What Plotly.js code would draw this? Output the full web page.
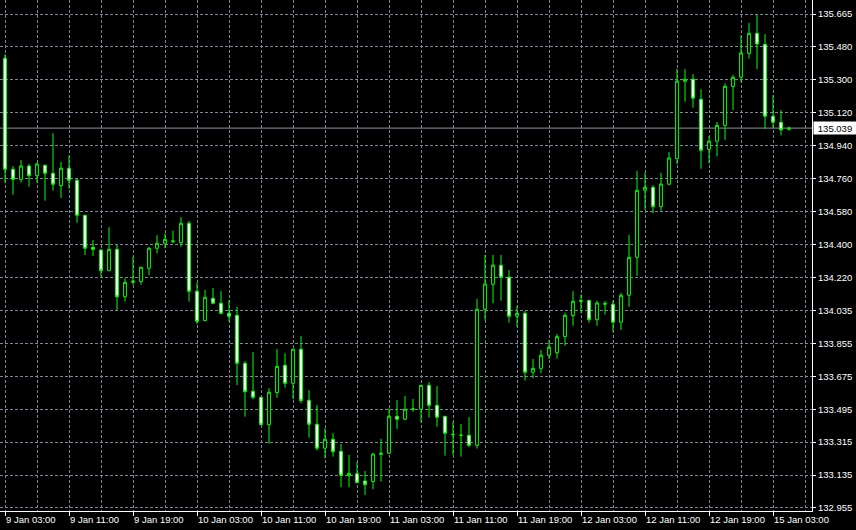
<!DOCTYPE html>
<html><head><meta charset="utf-8">
<script src="https://cdn.plot.ly/plotly-3.0.1.min.js"></script>
<style>html,body{margin:0;padding:0;background:#000;}#chart{width:856px;height:530px;}</style>
</head><body><div id="chart"></div>
<script>
// Hourly OHLC bars, 9 Jan 03:00 -> 15 Jan 05:00
const openP = [
135.422,134.813,134.758,134.831,134.778,134.835,134.791,134.723,134.819,134.753,
134.561,134.385,134.370,134.257,134.374,134.114,134.193,134.197,134.270,134.380,
134.407,134.415,134.410,134.517,134.144,133.983,134.105,134.078,134.023,134.012,
133.749,133.595,133.562,133.412,133.588,133.738,133.639,133.826,133.546,133.414,
133.283,133.332,133.266,133.132,133.143,133.103,133.100,133.249,133.255,133.458,
133.442,133.497,133.497,133.628,133.518,133.458,133.358,133.354,133.354,133.299,
134.045,134.182,134.287,134.221,134.007,134.023,133.700,133.721,133.793,133.807,
133.895,134.010,134.088,134.094,133.988,134.072,134.073,133.974,134.122,134.330,
134.698,134.714,134.608,134.731,134.871,135.296,135.307,135.197,134.923,134.967,
135.054,135.268,135.318,135.449,135.559,135.499,135.104,135.071,135.033];
const highP = [
135.444,134.831,134.864,134.842,134.849,134.838,135.011,134.853,134.886,134.762,
134.563,134.425,134.376,134.495,134.398,134.215,134.332,134.277,134.387,134.451,
134.462,134.476,134.551,134.530,134.191,134.151,134.162,134.145,134.096,134.058,
133.762,133.811,133.564,133.612,133.827,133.804,133.829,133.899,133.602,133.520,
133.392,133.365,133.306,133.246,133.207,133.158,133.257,133.334,133.502,133.548,
133.570,133.553,133.630,133.645,133.624,133.460,133.429,133.416,133.454,134.102,
134.343,134.343,134.343,134.261,134.062,134.036,133.772,133.822,133.877,133.910,
134.026,134.145,134.127,134.096,134.092,134.091,134.094,134.135,134.453,134.804,
134.793,134.727,134.793,134.908,135.363,135.363,135.336,135.252,134.996,135.073,
135.285,135.330,135.546,135.616,135.660,135.555,135.219,135.138,135.046];
const lowP = [
134.740,134.674,134.740,134.718,134.740,134.641,134.696,134.656,134.707,134.520,
134.343,134.337,134.224,134.255,134.041,134.087,134.180,134.180,134.232,134.352,
134.380,134.410,134.389,134.087,133.965,133.981,134.073,134.018,133.977,133.630,
133.456,133.551,133.409,133.308,133.560,133.615,133.553,133.529,133.341,133.270,
133.228,133.237,133.069,133.069,133.091,133.026,133.058,133.100,133.251,133.389,
133.436,133.483,133.425,133.451,133.401,133.242,133.246,133.237,133.288,133.281,
133.983,134.078,134.092,133.972,133.950,133.654,133.667,133.694,133.772,133.774,
133.845,133.955,134.023,133.972,133.955,134.016,133.921,133.932,134.059,134.229,
134.590,134.572,134.586,134.729,134.842,135.184,135.151,134.816,134.846,134.884,
134.975,135.138,135.290,135.420,135.363,135.036,135.041,134.999,135.025];
const closeP = [
134.813,134.758,134.831,134.778,134.842,134.791,134.731,134.819,134.753,134.561,
134.380,134.374,134.257,134.374,134.114,134.193,134.199,134.276,134.380,134.407,
134.429,134.420,134.517,134.144,133.979,134.111,134.078,134.023,134.007,133.749,
133.593,133.562,133.412,133.590,133.732,133.639,133.826,133.544,133.414,133.283,
133.332,133.264,133.135,133.145,133.094,133.083,133.251,133.255,133.458,133.442,
133.497,133.498,133.628,133.518,133.453,133.365,133.359,133.354,133.299,134.045,
134.184,134.287,134.221,134.007,134.023,133.700,133.721,133.793,133.837,133.895,
134.012,134.089,134.093,133.988,134.080,134.077,133.974,134.122,134.330,134.698,
134.714,134.608,134.732,134.875,135.297,135.307,135.203,134.917,134.967,135.054,
135.268,135.318,135.451,135.559,135.500,135.104,135.071,135.030,135.039];

const xTickIdx = [0,8,16,24,32,40,48,56,64,72,80,88,96];
const xTickLabels = ["9 Jan 03:00","9 Jan 11:00","9 Jan 19:00","10 Jan 03:00","10 Jan 11:00",
  "10 Jan 19:00","11 Jan 03:00","11 Jan 11:00","11 Jan 19:00","12 Jan 03:00","12 Jan 11:00",
  "12 Jan 19:00","15 Jan 03:00"];
const yTickLabels = ["132.955","133.135","133.315","133.495","133.675","133.855","134.035",
  "134.220","134.400","134.580","134.760","134.940","135.120","135.300","135.480","135.665"];

const xs = openP.map((_, i) => i);
const yLo = parseFloat(yTickLabels[0]);
const yHi = parseFloat(yTickLabels[yTickLabels.length - 1]);
const yTickVals = yTickLabels.map((_, i) => yLo + i * (yHi - yLo) / (yTickLabels.length - 1));
const cur = closeP[closeP.length - 1];

const gridColor = '#778899';
const gridDash = '3px,2px';
const fontFam = 'Liberation Sans, Arial, sans-serif';
const fs = 9.5;

const trace = {
  type: 'candlestick', x: xs, open: openP, high: highP, low: lowP, close: closeP,
  increasing: {line: {color: '#00ff00', width: 1}, fillcolor: '#000000'},
  decreasing: {line: {color: '#00ff00', width: 1}, fillcolor: '#ffffff'},
  whiskerwidth: 0, hoverinfo: 'none', showlegend: false
};

const layout = {
  width: 856, height: 530,
  margin: {l: 0, r: 44, t: 0, b: 19, pad: 0},
  paper_bgcolor: '#000', plot_bgcolor: '#000',
  showlegend: false, boxgap: 0.5,
  font: {family: fontFam, size: fs, color: '#fff'},
  xaxis: {
    range: [-0.625, 100.875], tickmode: 'array', tickvals: xTickIdx, ticktext: xTickLabels,
    tickangle: 0,
    ticks: 'outside', ticklen: 4, tickcolor: '#fff', tickwidth: 1,
    showline: true, linecolor: '#fff', linewidth: 1,
    showgrid: true, gridcolor: gridColor, griddash: gridDash, gridwidth: 1,
    zeroline: false, rangeslider: {visible: false}, ticklabelposition: 'outside right',
    tickfont: {family: fontFam, size: fs, color: '#fff'},
    minor: {tickmode: 'linear', tick0: 0, dtick: 4, showgrid: true, gridcolor: gridColor,
            griddash: gridDash, gridwidth: 1, ticklen: 0}
  },
  yaxis: {
    side: 'right', range: [132.9385, 135.7418], tickmode: 'array',
    tickvals: yTickVals, ticktext: yTickLabels,
    ticks: 'outside', ticklen: 3, tickcolor: '#fff', tickwidth: 1,
    showline: true, linecolor: '#fff', linewidth: 1,
    showgrid: true, gridcolor: gridColor, griddash: gridDash, gridwidth: 1,
    zeroline: false, tickfont: {family: fontFam, size: fs, color: '#fff'}
  },
  shapes: [{type: 'line', xref: 'paper', x0: 0, x1: 1, yref: 'y', y0: cur, y1: cur,
            line: {color: '#8a96a3', width: 1}, layer: 'below'}],
  annotations: [{xref: 'paper', x: 1, xanchor: 'left', xshift: 1, yref: 'y', y: cur,
                 yanchor: 'middle', text: cur.toFixed(3), showarrow: false, bgcolor: '#ffffff',
                 width: 40, height: 10, align: 'center',
                 font: {family: fontFam, size: fs, color: '#000'}, borderpad: 1}]
};

Plotly.newPlot('chart', [trace], layout, {staticPlot: true, displayModeBar: false});
</script>
</body></html>
